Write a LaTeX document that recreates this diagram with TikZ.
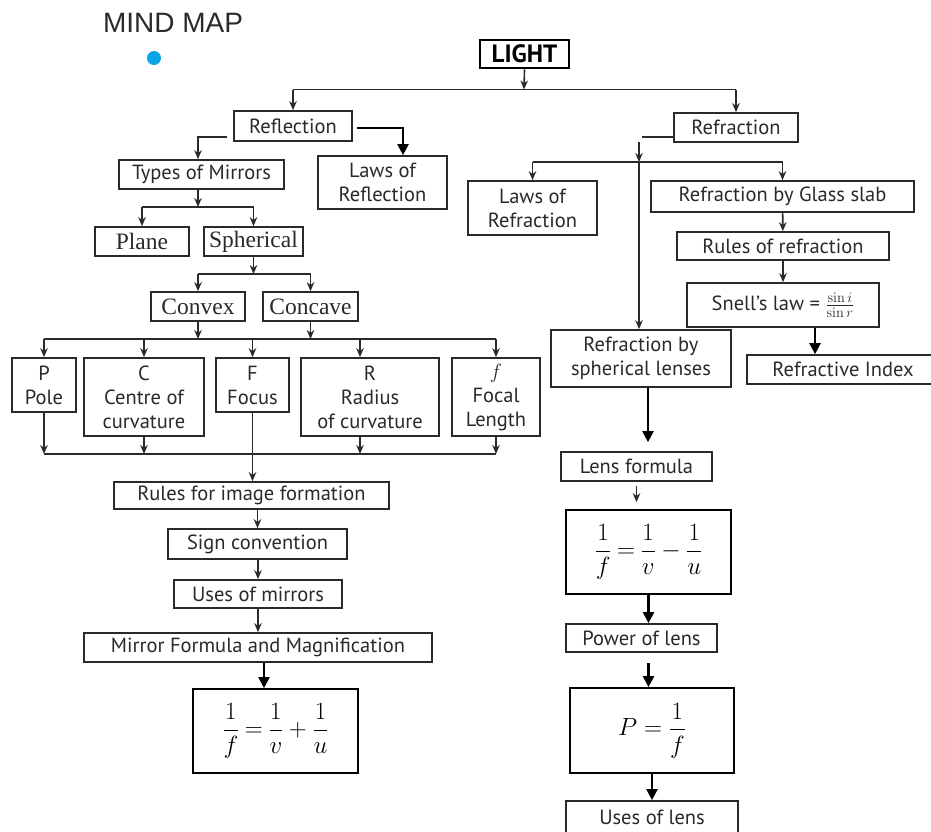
\documentclass[tikz,border=0pt]{standalone}
\usepackage{amsmath}
\usepackage[no-math]{fontspec}
\setmainfont{PT Sans}
\newfontfamily\mapserif{Liberation Serif}
\newfontfamily\titlefont{Liberation Sans}
\usetikzlibrary{arrows.meta}
\definecolor{ink}{HTML}{2A2A2A}
\definecolor{dotblue}{HTML}{0AA5E8}

\begin{document}
\begin{tikzpicture}[x=1pt,y=-1pt,
    box/.style={draw=ink,line width=1.7pt,inner sep=0pt,align=center,text=ink,font=\fontsize{20.5}{24}\selectfont},
    sbox/.style={box,font=\mapserif\fontsize{23.5}{26}\selectfont},
    fbox/.style={box,draw=black,text=black,font=\fontsize{24.88}{28}\selectfont},
    ln/.style={draw=ink,line width=1.6pt},
    arr/.style={ln,-{Stealth[length=9pt,width=7.5pt]}},
    bigarr/.style={draw=black,line width=2.2pt,-{Triangle[length=11pt,width=11pt]}}]
    \useasboundingbox (0,0) rectangle (931,831);
    \fill[white] (0,0) rectangle (931,831);

    \node[font=\titlefont\fontsize{28}{30}\selectfont,text=ink] (title) at (173,23) {MIND MAP};
    \node[circle,fill=dotblue,inner sep=0pt,minimum size=14] (dot) at (154,58) {};
    \node[box,draw=black,line width=2.8pt,text=black,font=\bfseries\fontsize{25}{28}\selectfont,minimum width=89,minimum height=28] (light) at (524.5,54) {LIGHT};

    % reflection side
    \node[box,minimum width=118,minimum height=30] (refl) at (293,126) {Reflection};
    \node[box,minimum width=129,minimum height=53] (lawsrefl) at (382.5,182.5) {Laws of\\Reflection};
    \node[box,minimum width=165,minimum height=29] (types) at (201.5,174.5) {Types of Mirrors};
    \node[sbox,minimum width=94,minimum height=29] (plane) at (142,241.5) {Plane};
    \node[sbox,minimum width=99,minimum height=29] (sph) at (253.5,241.5) {Spherical};
    \node[sbox,minimum width=94,minimum height=29] (convex) at (198,306.5) {Convex};
    \node[sbox,minimum width=95,minimum height=29] (concave) at (310.5,306.5) {Concave};
    \node[box,minimum width=64,minimum height=54] (pole) at (44,385) {P\\Pole};
    \node[box,minimum width=120,minimum height=78] (centre) at (144,397) {C\\Centre of\\curvature};
    \node[box,minimum width=73,minimum height=54] (focus) at (252.5,385) {F\\Focus};
    \node[box,minimum width=138,minimum height=78] (radius) at (370,397) {R\\Radius\\of curvature};
    \node[box,minimum width=88,minimum height=78] (focal) at (496,397) {$f$\\Focal\\Length};
    \node[box,minimum width=275,minimum height=27] (rules) at (251.5,495.5) {Rules for image formation};
    \node[box,minimum width=179,minimum height=30] (sign) at (257.5,544) {Sign convention};
    \node[box,minimum width=168,minimum height=28] (uses) at (258,594) {Uses of mirrors};
    \node[box,minimum width=348,minimum height=29] (mirror) at (258,647.5) {Mirror Formula and Magnification};
    \node[fbox,minimum width=165,minimum height=84] (mform) at (275.5,731) {$\dfrac{1}{f}\mkern4mu{=}\mkern4mu\dfrac{1}{v}\mkern4mu{+}\mkern4mu\dfrac{1}{u}$};

    % refraction side
    \node[box,minimum width=124,minimum height=29] (refr) at (736,127.5) {Refraction};
    \node[box,minimum width=129,minimum height=54] (lawsrefr) at (532.5,208) {Laws of\\Refraction};
    \node[box,minimum width=263,minimum height=31] (glass) at (782.5,196.5) {Refraction by Glass slab};
    \node[box,minimum width=212,minimum height=28] (rulesr) at (783,246) {Rules of refraction};
    \node[box,minimum width=192,minimum height=44] (snell) at (783,305) {Snell’s law = $\frac{\sin i}{\sin r}$};
    \node[box,minimum width=192,minimum height=29] (refind) at (843,369.5) {Refractive Index};
    \node[box,minimum width=180,minimum height=57] (sphl) at (641,358.5) {Refraction by\\spherical lenses};
    \node[box,minimum width=151,minimum height=29] (lensf) at (636.5,466.5) {Lens formula};
    \node[fbox,minimum width=165,minimum height=84] (lform) at (648.5,552) {$\dfrac{1}{f}\mkern4mu{=}\mkern4mu\dfrac{1}{v}\mkern4mu{-}\mkern4mu\dfrac{1}{u}$};
    \node[box,minimum width=151,minimum height=28] (power) at (641.5,638) {Power of lens};
    \node[fbox,minimum width=164,minimum height=85] (pform) at (652,730.5) {$P=\dfrac{1}{f}$};
    \node[box,minimum width=172,minimum height=32] (uselens) at (652,817) {Uses of lens};

    % bus lines and turning points
    \coordinate (lb) at (524,89.5);
    \coordinate (tb) at (198,207);
    \coordinate (sb) at (254,274);
    \coordinate (cb) at (0,339);
    \coordinate (db) at (0,454);
    \coordinate (rx) at (360,0);
    \coordinate (lx) at (403,0);
    \coordinate (mx) at (264,0);
    \coordinate (rt) at (639,142);
    \coordinate (rb) at (639,162);
    \coordinate (sx) at (815,0);
    \coordinate (kx) at (648,0);

    \draw[arr] (light.south) -- (lb);
    \draw[ln] (refl.north|-lb) -- (refr.north|-lb);
    \draw[arr] (refl.north|-lb) -- (refl.north);
    \draw[arr] (refr.north|-lb) -- (refr.north);

    \draw[bigarr,shorten <=4pt] ([yshift=-2]refl.east) -| (lx|-lawsrefl.north);
    \draw[arr,shorten <=6pt] ([yshift=-11]refl.west) -| (tb|-types.north);
    \draw[arr] (tb|-types.south) -- (tb);
    \draw[ln] (plane.north|-tb) -- (sph.north|-tb);
    \draw[arr] (plane.north|-tb) -- (plane.north);
    \draw[arr] (sph.north|-tb) -- (sph.north);

    \draw[arr] (sph.south) -- (sph.south|-sb);
    \draw[ln] (convex.north|-sb) -- (concave.north|-sb);
    \draw[arr] (convex.north|-sb) -- (convex.north);
    \draw[arr] (concave.north|-sb) -- (concave.north);

    \draw[arr] (convex.south) -- (convex.south|-cb);
    \draw[arr] (concave.south) -- (concave.south|-cb);
    \draw[ln] (pole.north|-cb) -- (focal.north|-cb);
    \foreach \n in {pole,centre,focus,focal}
        \draw[arr] (\n.north|-cb) -- (\n.north);
    \draw[arr] (rx|-cb) -- (rx|-radius.north);

    \foreach \n in {pole,centre,focal}
        \draw[arr] (\n.south) -- (\n.south|-db);
    \draw[arr] (rx|-radius.south) -- (rx|-db);
    \draw[ln] (pole.south|-db) -- (focal.south|-db);
    \draw[arr] (focus.south) -- (focus.south|-rules.north);

    \draw[arr] (rules.south-|sign) -- (sign.north);
    \draw[arr] (sign.south-|uses) -- (uses.north);
    \draw[arr] (uses.south-|mirror) -- (mirror.north);
    \draw[bigarr] (mx|-mirror.south) -- (mx|-mform.north);

    \draw[ln] ([yshift=-9.5]refr.west) -- +(-31,0);
    \draw[arr] (rt) -- (rb);
    \draw[arr] (rb) -- (rb|-sphl.north);
    \draw[ln] (lawsrefr.north|-rb) -- (glass.north|-rb);
    \draw[arr] (lawsrefr.north|-rb) -- (lawsrefr.north);
    \draw[arr] (glass.north|-rb) -- (glass.north);
    \draw[arr] (glass) -- (rulesr);
    \draw[arr] (rulesr) -- (snell);
    \draw[bigarr] (sx|-snell.south) -- (sx|-refind.north);

    \draw[bigarr,shorten >=9pt] (kx|-sphl.south) -- (kx|-lensf.north);
    \draw[arr,shorten <=4pt,shorten >=7pt] (lensf.south) -- (lensf.south|-lform.north);
    \draw[bigarr] (lform.south) -- (lform.south|-power.north);
    \draw[bigarr,shorten <=10pt] (power.south-|lform) -- (lform|-pform.north);
    \draw[bigarr] (pform.south) -- (pform.south|-uselens.north);
\end{tikzpicture}
\end{document}
